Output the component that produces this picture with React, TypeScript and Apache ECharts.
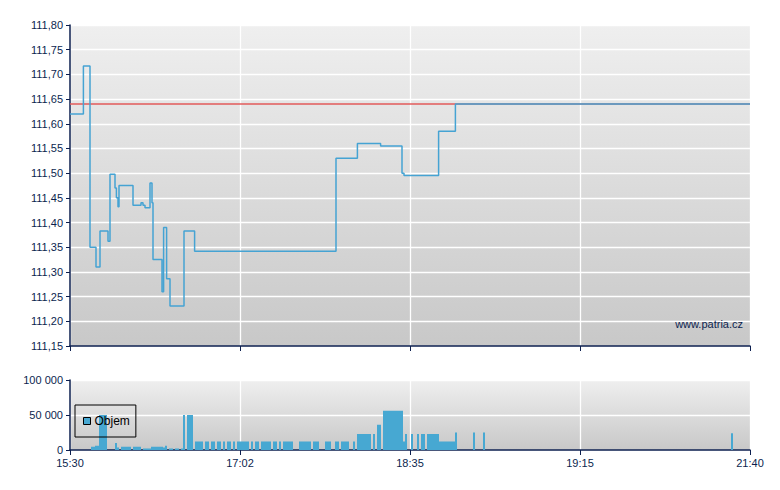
import React, { useEffect, useRef } from "react";
import * as echarts from "echarts";

// x axis: trading "slots" (0..340), labelled at every 85 slots
const xTickLabels = ["15:30", "17:02", "18:35", "19:15", "21:40"];
const X_MAX = 340;
const X_STEP = 85;

// price steps: [slot, price]
const priceSlots = [0, 6.7, 10, 13, 15, 19, 20, 22.5, 23.2, 24, 24.5, 31.5, 35.5, 36.5, 37.5, 40, 41, 41.5, 46, 46.8, 48.3, 50, 57, 62.3, 133, 143.7, 155.3, 166, 167, 184.3, 192.7, 340];
const priceValues = [111.62, 111.717, 111.35, 111.31, 111.383, 111.362, 111.498, 111.47, 111.45, 111.432, 111.475, 111.435, 111.44, 111.435, 111.43, 111.48, 111.44, 111.325, 111.26, 111.39, 111.286, 111.231, 111.383, 111.342, 111.53, 111.56, 111.555, 111.5, 111.495, 111.585, 111.64, 111.64];

const prevClose = 111.64;

// volume bars: slot and volume
const volSlots = [
  11, 12, 13, 14, 15, 16, 17, 18, 23, 24,
  26, 27, 28, 29, 30, 32, 33, 34, 35,
  37, 38, 39, 40, 41, 42, 43, 44, 45, 46, 47, 48,
  50, 51, 53, 54, 56, 57, 59, 60, 61,
  63, 64, 65, 66, 68, 69, 71, 72, 74, 75, 77, 79, 80, 82, 84, 85, 86, 87, 88,
  89, 91, 93, 94, 96, 97, 98, 99, 100, 102, 103, 105, 107, 108, 109, 110, 111,
  115, 116, 117, 118, 119, 120, 122, 123, 124, 128, 129, 130, 133, 134, 136, 137, 138, 139, 142,
  144, 145, 146, 147, 148, 149, 150, 152, 154, 155,
  157, 158, 159, 160, 161, 162, 163, 164, 165, 166, 167, 168, 171,
  174, 176, 177, 179, 180, 181, 182, 183, 184,
  185, 186, 187, 188, 189, 190, 191, 192, 193, 202, 207, 331,
];
const volValues = [
  4500, 4500, 6000, 6000, 50000, 50000, 50000, 50000, 10000, 3500,
  4500, 4500, 4500, 4500, 4500, 4500, 4500, 4500, 4500,
  2000, 2000, 2000, 2000, 4500, 4500, 4500, 4500, 4500, 4500, 3500, 6000,
  2000, 2000, 2000, 2000, 2000, 50000, 50000, 50000, 50000,
  12000, 12000, 12000, 12000, 12000, 12000, 12000, 12000, 12000, 12000, 12000, 12000, 12000, 12000, 12000, 12000, 12000, 12000, 12000,
  12000, 12000, 12000, 12000, 12000, 12000, 12000, 12000, 12000, 12000, 12000, 12000, 12000, 12000, 12000, 12000, 12000,
  12000, 12000, 12000, 12000, 12000, 12000, 12000, 12000, 12000, 12000, 12000, 12000, 12000, 12000, 12000, 12000, 12000, 12000, 12000,
  23000, 23000, 23000, 23000, 23000, 23000, 23000, 23000, 36000, 36000,
  56000, 56000, 56000, 56000, 56000, 56000, 56000, 56000, 56000, 56000, 12000, 23000, 23000,
  23000, 23000, 23000, 23000, 23000, 23000, 23000, 23000, 23000,
  12000, 12000, 12000, 12000, 12000, 12000, 12000, 12000, 25000, 25000, 25000, 24000,
];

const NAVY = "#0c1f4f";
const FONT = "Liberation Sans";

export default function App() {
  const ref = useRef<HTMLDivElement>(null);

  useEffect(() => {
    if (!ref.current) return;
    const chart = echarts.init(ref.current, undefined, { renderer: "svg" });

    const grad = () =>
      new echarts.graphic.LinearGradient(0, 0, 0, 1, [
        { offset: 0, color: "#efefef" },
        { offset: 1, color: "#c8c8c8" },
      ]);

    const xAxisBase = {
      type: "value" as const,
      min: 0,
      max: X_MAX,
      interval: X_STEP,
      axisLine: { show: true, lineStyle: { color: NAVY, width: 1.5 } },
      axisTick: { show: true, length: 5, lineStyle: { color: NAVY, width: 1 } },
      splitLine: { show: true, lineStyle: { color: "#ffffff", width: 1.3 } },
    };

    const option = {
      animation: false,
      textStyle: { fontFamily: FONT },
      grid: [
        { left: 70, right: 30, top: 25, height: 321, show: true, backgroundColor: grad(), borderWidth: 0 },
        { left: 70, right: 30, top: 380, height: 70, show: true, backgroundColor: grad(), borderWidth: 0 },
      ],
      legend: {
        data: ["Objem"],
        left: 75,
        top: 405,
        orient: "horizontal",
        padding: [10, 6, 10, 8],
        itemWidth: 7,
        itemHeight: 7,
        icon: "rect",
        borderColor: "#000000",
        borderWidth: 1,
        itemStyle: { borderColor: "#000000", borderWidth: 1 },
        textStyle: { color: "#000000", fontSize: 12, fontFamily: FONT, padding: [0, 0, 0, -1] },
        selectedMode: false,
      },
      xAxis: [
        { ...xAxisBase, gridIndex: 0, axisLabel: { show: false } },
        {
          ...xAxisBase,
          gridIndex: 1,
          axisLabel: {
            show: true,
            color: NAVY,
            fontSize: 11,
            fontFamily: FONT,
            margin: 7,
            formatter: (v: number) => xTickLabels[Math.round(v / X_STEP)] ?? "",
          },
        },
      ],
      yAxis: [
        {
          type: "value",
          gridIndex: 0,
          min: 111.15,
          max: 111.8,
          interval: 0.05,
          axisLine: { show: true, lineStyle: { color: NAVY, width: 1.5 } },
          axisTick: { show: true, length: 4, lineStyle: { color: NAVY } },
          splitLine: { show: true, lineStyle: { color: "#ffffff", width: 1.3 } },
          axisLabel: {
            color: NAVY,
            fontSize: 11,
            fontFamily: FONT,
            margin: 7,
            formatter: (v: number) => v.toFixed(2).replace(".", ","),
          },
        },
        {
          type: "value",
          gridIndex: 1,
          min: 0,
          max: 100000,
          interval: 50000,
          axisLine: { show: true, lineStyle: { color: NAVY, width: 1.5 } },
          axisTick: { show: true, length: 4, lineStyle: { color: NAVY } },
          splitLine: { show: true, lineStyle: { color: "#ffffff", width: 1.3 } },
          axisLabel: {
            color: NAVY,
            fontSize: 11,
            fontFamily: FONT,
            margin: 7,
            formatter: (v: number) => String(v).replace(/\B(?=(\d{3})+(?!\d))/g, " "),
          },
        },
      ],
      graphic: [
        {
          type: "text",
          right: 37,
          top: 318,
          z: 100,
          style: { text: "www.patria.cz", fill: NAVY, font: `11px "${FONT}"` },
        },
      ],
      series: [
        {
          name: "Předchozí závěr",
          type: "line",
          xAxisIndex: 0,
          yAxisIndex: 0,
          showSymbol: false,
          silent: true,
          lineStyle: { color: "#e25a5a", width: 1.4 },
          data: [
            [0, prevClose],
            [X_MAX, prevClose],
          ],
        },
        {
          name: "Cena",
          type: "line",
          xAxisIndex: 0,
          yAxisIndex: 0,
          step: "end",
          showSymbol: false,
          lineStyle: { color: "#45a3d3", width: 1.5 },
          data: priceSlots.map((s, i) => [s, priceValues[i]]),
        },
        {
          name: "Objem",
          type: "bar",
          xAxisIndex: 1,
          yAxisIndex: 1,
          barWidth: 2,
          itemStyle: { color: "#47a8d2" },
          data: volSlots.map((s, i) => [s, volValues[i]]),
        },
      ],
    };

    chart.setOption(option as any);
    return () => chart.dispose();
  }, []);

  return (
    <div
      ref={ref}
      style={{ position: "fixed", left: 0, top: 0, width: 780, height: 490, background: "#ffffff" }}
    />
  );
}
